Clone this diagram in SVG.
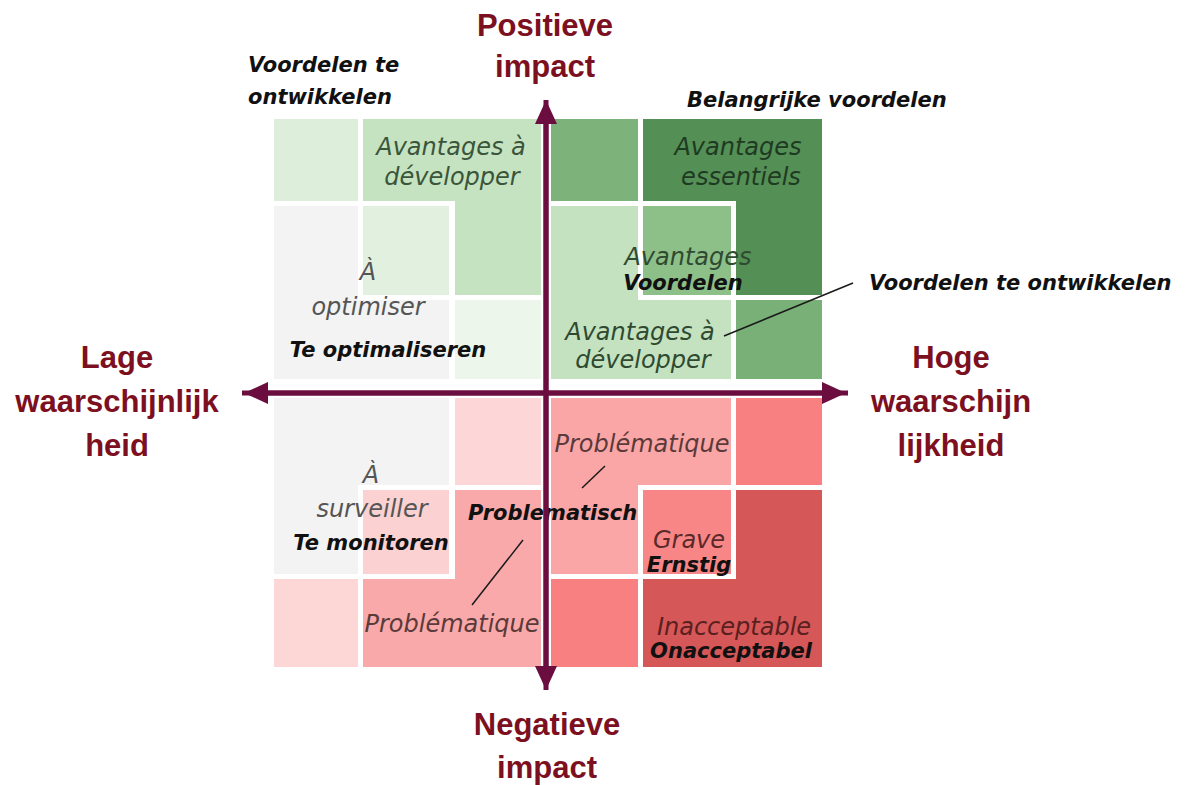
<svg xmlns="http://www.w3.org/2000/svg" width="1196" height="785" viewBox="0 0 1196 785">
<defs>
<style>
.axl{font-family:"Liberation Sans",Arial,sans-serif;font-weight:bold;font-size:31px;fill:#7d1020;text-anchor:middle}
.fr{font-family:"DejaVu Sans",sans-serif;font-style:italic;font-size:24px;text-anchor:middle}
.nl{font-family:"DejaVu Sans",sans-serif;font-style:italic;font-weight:bold;font-size:21px;fill:#111}
.mid{text-anchor:middle}
.lead{stroke:#1a1a1a;stroke-width:1.5;fill:none}
.axis{stroke:#6b0d3f;stroke-width:5;fill:none}
</style>
<marker id="ah" viewBox="0 0 24 22" refX="2" refY="11" markerWidth="24" markerHeight="22" markerUnits="userSpaceOnUse" orient="auto">
<path d="M0,0 L24,11 L0,22 Z" fill="#6b0d3f"/>
</marker>
</defs>
<rect width="1196" height="785" fill="#ffffff"/>

<g id="q-top-left">
<rect x="274" y="119" width="84" height="82" fill="#ddefda"/>
<path d="M363,119 H541 V295 H455 V201 H363 Z" fill="#c5e3c1"/>
<rect x="363" y="206" width="86" height="89" fill="#e2f1df"/>
<path d="M274,206 H358 V300 H449 V379 H274 Z" fill="#f3f3f3"/>
<rect x="455" y="300" width="86" height="79" fill="#ecf6ea"/>
<text class="fr" x="451" y="155" fill="#3a553a">Avantages à</text>
<text class="fr" x="452" y="185" fill="#3a553a">développer</text>
<text class="fr" x="368" y="280" fill="#555">À</text>
<text class="fr" x="368" y="315" fill="#555">optimiser</text>
<text class="nl mid" x="388" y="357">Te optimaliseren</text>
</g>

<g id="q-top-right">
<rect x="551" y="119" width="87" height="82" fill="#7db27b"/>
<path d="M643,119 H822 V295 H736 V201 H643 Z" fill="#548f55"/>
<rect x="643" y="206" width="88" height="89" fill="#8dbf89"/>
<path d="M551,206 H638 V300 H731 V379 H551 Z" fill="#c4e2c0"/>
<rect x="736" y="300" width="86" height="79" fill="#79b077"/>
<text class="fr" x="738" y="155" fill="#1f3a22">Avantages</text>
<text class="fr" x="741" y="185" fill="#1f3a22">essentiels</text>
<text class="fr" x="688" y="265" fill="#2f4a30">Avantages</text>
<text class="nl mid" x="683" y="290">Voordelen</text>
<text class="fr" x="640" y="340" fill="#2f4a30">Avantages à</text>
<text class="fr" x="643" y="368" fill="#2f4a30">développer</text>
</g>

<g id="q-bottom-left">
<path d="M274,398 H449 V485 H358 V574 H274 Z" fill="#f3f3f3"/>
<rect x="455" y="398" width="86" height="87" fill="#fdd7d7"/>
<rect x="363" y="490" width="86" height="84" fill="#fbd1d1"/>
<path d="M455,490 H541 V667 H363 V579 H455 Z" fill="#f9a9a9"/>
<rect x="274" y="579" width="84" height="88" fill="#fdd6d6"/>
<text class="fr" x="371" y="483" fill="#555">À</text>
<text class="fr" x="372" y="517" fill="#555">surveiller</text>
<text class="nl mid" x="371" y="550">Te monitoren</text>
<text class="fr" x="452" y="632" fill="#5a3a3a">Problématique</text>
</g>

<g id="q-bottom-right">
<path d="M551,398 H731 V485 H638 V574 H551 Z" fill="#fba6a6"/>
<rect x="736" y="398" width="86" height="87" fill="#f98080"/>
<rect x="643" y="490" width="88" height="84" fill="#f88686"/>
<path d="M736,490 H822 V667 H643 V579 H736 Z" fill="#d65757"/>
<rect x="551" y="579" width="87" height="88" fill="#f98080"/>
<text class="fr" x="642" y="452" fill="#5a3a3a">Problématique</text>
<text class="fr" x="689" y="548" fill="#5a2a2a">Grave</text>
<text class="nl mid" x="689" y="572">Ernstig</text>
<text class="fr" x="734" y="635" fill="#5a2020">Inacceptable</text>
<text class="nl mid" x="731" y="658">Onacceptabel</text>
</g>

<g id="label-problematisch">
<text class="nl" x="468" y="520">Problematisch</text>
</g>

<g id="connectors">
<line class="lead" x1="724" y1="336" x2="853" y2="283"/>
<line class="lead" x1="523" y1="540" x2="472" y2="605"/>
<line class="lead" x1="605" y1="466" x2="582" y2="488"/>
<line class="axis" x1="546" y1="690" x2="546" y2="122" marker-end="url(#ah)"/>
<line class="axis" x1="546" y1="100" x2="546" y2="668" marker-end="url(#ah)"/>
<line class="axis" x1="848" y1="393" x2="266" y2="393" marker-end="url(#ah)"/>
<line class="axis" x1="242" y1="393" x2="824" y2="393" marker-end="url(#ah)"/>
</g>

<g id="axis-labels">
<text class="axl" x="545" y="36">Positieve</text>
<text class="axl" x="545" y="77">impact</text>
<text class="axl" x="547" y="735">Negatieve</text>
<text class="axl" x="547" y="778">impact</text>
<text class="axl" x="117" y="368">Lage</text>
<text class="axl" x="117" y="412">waarschijnlijk</text>
<text class="axl" x="117" y="456">heid</text>
<text class="axl" x="951" y="368">Hoge</text>
<text class="axl" x="951" y="412">waarschijn</text>
<text class="axl" x="951" y="456">lijkheid</text>
</g>

<g id="group-labels">
<text class="nl" x="248" y="72">Voordelen te</text>
<text class="nl" x="248" y="104">ontwikkelen</text>
<text class="nl" x="687" y="107">Belangrijke voordelen</text>
<text class="nl" x="869" y="290">Voordelen te ontwikkelen</text>
</g>
</svg>
